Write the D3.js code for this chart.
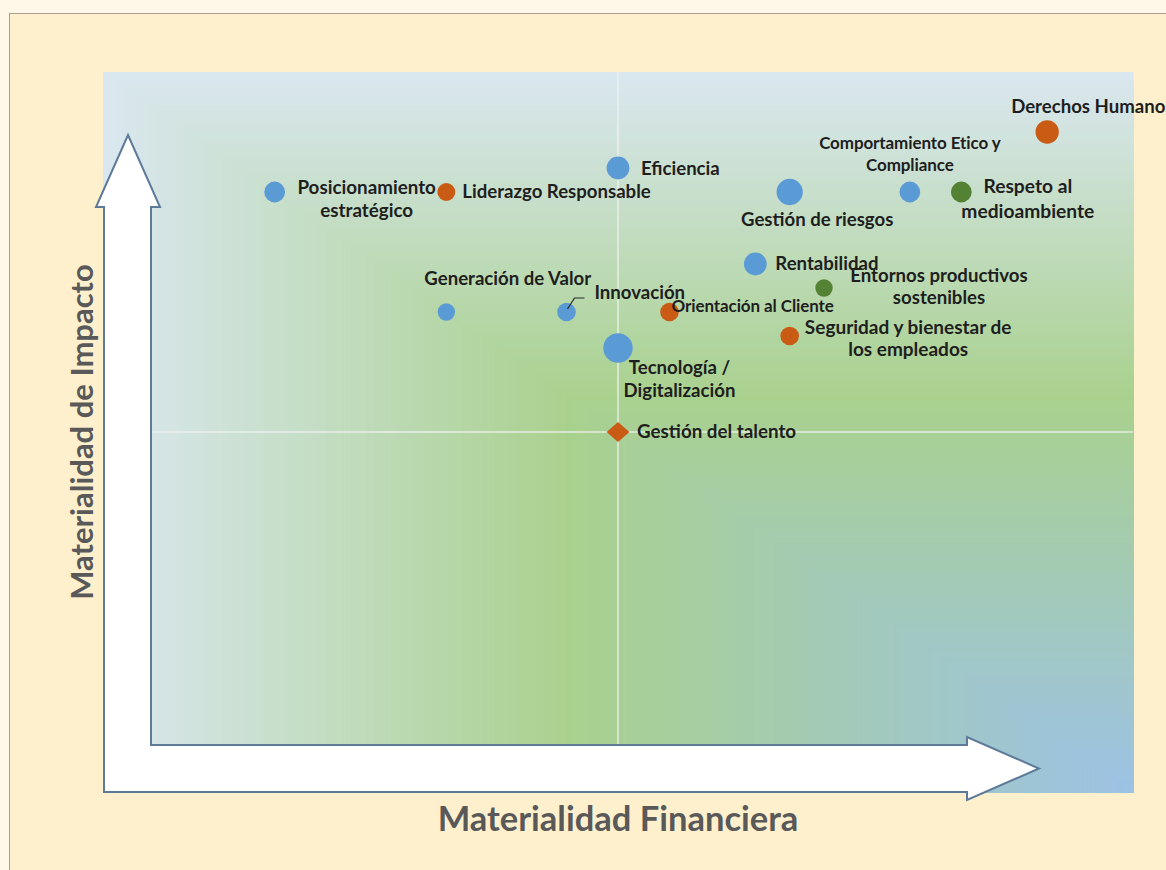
<!DOCTYPE html>
<html lang="es">
<head>
<meta charset="utf-8">
<title>Matriz de doble materialidad</title>
<script src="https://cdn.jsdelivr.net/npm/d3@7"></script>
<style>
  html, body { margin: 0; padding: 0; background: #FFF8E8; }
  svg { display: block; }
  text { font-family: Lato, "Open Sans", sans-serif; }
</style>
</head>
<body>
<div id="chart"></div>
<script>
// ---- Datos: temas materiales ----
const temas = [
  "Posicionamiento\nestratégico",
  "Liderazgo Responsable",
  "Eficiencia",
  "Gestión de riesgos",
  "Comportamiento Etico y\nCompliance",
  "Respeto al\nmedioambiente",
  "Derechos Humanos",
  "Rentabilidad",
  "Entornos productivos\nsostenibles",
  "Generación de Valor",
  "Innovación",
  "Orientación al Cliente",
  "Seguridad y bienestar de\nlos empleados",
  "Tecnología /\nDigitalización",
  "Gestión del talento"
];
const materialidadFinanciera = [1, 2, 3, 4, 4.7, 5, 5.5, 3.8, 4.2, 2, 2.7, 3.3, 4, 3, 3];
const materialidadImpacto    = [5, 5, 5.2, 5, 5, 5, 5.5, 4.4, 4.2, 4, 4, 4, 3.8, 3.7, 3];
const relevancia             = [5, 3.75, 6, 8, 5, 5, 6.3, 6, 3.5, 3.5, 4, 4, 4, 10, 6];
const dimension = ["Económica", "Social", "Económica", "Económica", "Económica", "Ambiental",
                   "Social", "Económica", "Ambiental", "Económica", "Económica", "Social",
                   "Social", "Económica", "Social"];
const marcador = ["círculo", "círculo", "círculo", "círculo", "círculo", "círculo", "círculo",
                  "círculo", "círculo", "círculo", "círculo", "círculo", "círculo", "círculo", "rombo"];
const dominioEjes = [0, 6];
const umbral = 3;
const tituloX = "Materialidad Financiera";
const tituloY = "Materialidad de Impacto";

// ---- Presentación ----
const W = 1166, H = 870;
const plot = { left: 103, top: 72, right: 1133, bottom: 792 };

const colores = d3.scaleOrdinal()
  .domain(["Económica", "Social", "Ambiental"])
  .range(["#5B9BD5", "#C95B14", "#548235"]);

// Colocación de cada etiqueta respecto a su marcador
const etiquetaPos = [
  { anchor: "middle", dx: 92,  dy: 2,   lh: 23,  size: 18.8 },
  { anchor: "start",  dx: 16,  dy: 6,   lh: 22,  size: 18.6 },
  { anchor: "start",  dx: 23,  dy: 7,   lh: 22,  size: 18.6 },
  { anchor: "middle", dx: 27.5,dy: 34,  lh: 22,  size: 18.6 },
  { anchor: "middle", dx: 0,   dy: -43, lh: 22,  size: 17,   ls: -0.1 },
  { anchor: "middle", dx: 66.5,dy: 1,   lh: 25,  size: 19.2 },
  { anchor: "start",  dx: -36, dy: -19, lh: 22,  size: 18.6 },
  { anchor: "start",  dx: 20,  dy: 6,   lh: 22,  size: 18.6 },
  { anchor: "middle", dx: 115, dy: -6,  lh: 21.5,size: 18.6 },
  { anchor: "start",  dx: -22, dy: -27, lh: 22,  size: 18.6 },
  { anchor: "start",  dx: 28,  dy: -13, lh: 22,  size: 18.6 },
  { anchor: "start",  dx: 2,   dy: 0,   lh: 22,  size: 17,   ls: -0.1 },
  { anchor: "middle", dx: 118.5,dy: -2, lh: 22,  size: 19 },
  { anchor: "middle", dx: 61.5,dy: 26,  lh: 23.3,size: 18.6 },
  { anchor: "start",  dx: 19,  dy: 6,   lh: 22,  size: 18.8 }
];

const svg = d3.select("#chart").append("svg")
  .attr("width", W).attr("height", H);

// Fondo y marco
svg.append("rect").attr("width", W).attr("height", H).attr("fill", "#FFF8E8");
svg.append("rect")
  .attr("x", 9.5).attr("y", 13.5).attr("width", W + 20).attr("height", H + 20)
  .attr("fill", "#FFF0CD").attr("stroke", "#A8A28C").attr("stroke-width", 1);

// Escalas
const x = d3.scaleLinear().domain(dominioEjes).range([plot.left, plot.right]);
const y = d3.scaleLinear().domain(dominioEjes).range([plot.bottom, plot.top]);
const r = d3.scaleSqrt().domain([0, 10]).range([0, 14.7]);

// Degradado rectangular desde la esquina inferior derecha
const pw = plot.right - plot.left, ph = plot.bottom - plot.top;
const tono = d3.scaleLinear()
  .domain([0, 0.55, 1])
  .range(["#9CC2E5", "#A9D18E", "#DAE7F0"])
  .interpolate(d3.interpolateRgb);
const pasos = d3.range(1, 0, -0.004);
svg.append("g").selectAll("rect").data(pasos).join("rect")
  .attr("x", t => plot.right - t * pw)
  .attr("y", t => plot.bottom - t * ph)
  .attr("width", t => t * pw + 0.5)
  .attr("height", t => t * ph + 0.5)
  .attr("fill", t => tono(t));

// Líneas de umbral
const cruz = svg.append("g").attr("stroke", "#EEF2EE").attr("stroke-opacity", 0.85).attr("stroke-width", 1.5);
cruz.append("line").attr("x1", x(umbral)).attr("x2", x(umbral)).attr("y1", plot.top).attr("y2", plot.bottom);
cruz.append("line").attr("x1", plot.left).attr("x2", plot.right).attr("y1", y(umbral)).attr("y2", y(umbral));

// Flecha en L que rodea los ejes
const L = plot.left + 1, B = plot.bottom;
const grosor = 47;
const vTip = 135, vBase = 207, vHalf = 32, vCx = L + grosor / 2 + 0.5;
const hTip = 1039, hBase = 967, hHalf = 31.5, hCy = B - grosor / 2;
const flecha = [
  [vCx, vTip],
  [vCx + vHalf, vBase],
  [L + grosor, vBase],
  [L + grosor, B - grosor],
  [hBase, B - grosor],
  [hBase, hCy - hHalf],
  [hTip, hCy],
  [hBase, hCy + hHalf],
  [hBase, B],
  [L, B],
  [L, vBase],
  [vCx - vHalf, vBase]
];
svg.append("path")
  .attr("d", d3.line()(flecha) + "Z")
  .attr("fill", "#FFFFFF")
  .attr("stroke", "#5D7B98")
  .attr("stroke-width", 2)
  .attr("stroke-linejoin", "miter");

// Títulos de los ejes
svg.append("text")
  .attr("x", x(umbral)).attr("y", 831)
  .attr("text-anchor", "middle")
  .attr("font-size", 34.5).attr("font-weight", 700)
  .attr("fill", "#595959")
  .text(tituloX);
svg.append("text")
  .attr("transform", `translate(93,${y(umbral)}) rotate(-90)`)
  .attr("text-anchor", "middle")
  .attr("font-size", 31).attr("font-weight", 700)
  .attr("fill", "#595959")
  .text(tituloY);

// Marcadores
const idx = d3.range(temas.length);
const marcas = svg.append("g");
marcas.selectAll("circle")
  .data(idx.filter(i => marcador[i] === "círculo"))
  .join("circle")
  .attr("cx", i => x(materialidadFinanciera[i]))
  .attr("cy", i => y(materialidadImpacto[i]))
  .attr("r", i => r(relevancia[i]))
  .attr("fill", i => colores(dimension[i]));
marcas.selectAll("path")
  .data(idx.filter(i => marcador[i] === "rombo"))
  .join("path")
  .attr("d", i => {
    const cx = x(materialidadFinanciera[i]), cy = y(materialidadImpacto[i]);
    const a = r(relevancia[i]), b = a * 0.88;
    return `M${cx - a},${cy}L${cx},${cy - b}L${cx + a},${cy}L${cx},${cy + b}Z`;
  })
  .attr("fill", i => colores(dimension[i]));

// Guía de la etiqueta "Innovación"
const iInnov = temas.indexOf("Innovación");
{
  const cx = x(materialidadFinanciera[iInnov]), cy = y(materialidadImpacto[iInnov]);
  svg.append("path")
    .attr("d", `M${cx + 1},${cy - 3}L${cx + 8},${cy - 14}L${cx + 18},${cy - 14}`)
    .attr("fill", "none").attr("stroke", "#262626").attr("stroke-width", 1.2);
}

// Etiquetas
const etiquetas = svg.append("g").attr("fill", "#1E1E1E").attr("font-weight", 700);
idx.forEach(i => {
  const p = etiquetaPos[i];
  const cx = x(materialidadFinanciera[i]), cy = y(materialidadImpacto[i]);
  const t = etiquetas.append("text")
    .attr("text-anchor", p.anchor)
    .attr("font-size", p.size)
    .attr("letter-spacing", p.ls || 0);
  temas[i].split("\n").forEach((linea, k) => {
    t.append("tspan")
      .attr("x", cx + p.dx)
      .attr("y", cy + p.dy + k * p.lh)
      .text(linea);
  });
});
</script>
</body>
</html>
